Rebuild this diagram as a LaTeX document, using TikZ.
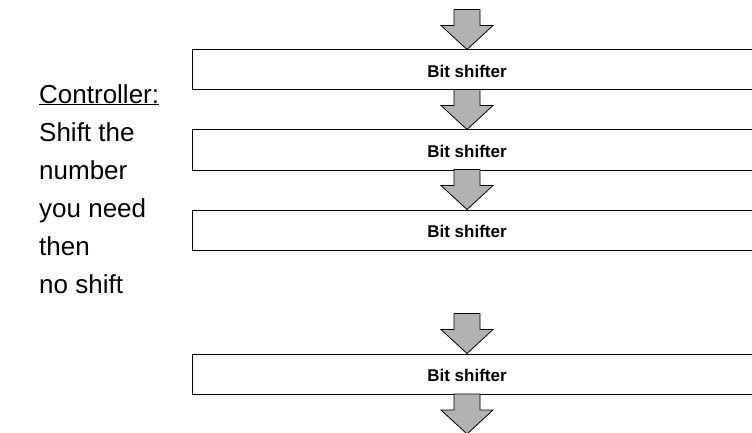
\documentclass[tikz,border=0pt]{standalone}
\usepackage{fontspec}
\setmainfont{Liberation Sans}
\begin{document}
\begin{tikzpicture}[x=1pt,y=-1pt,
  shifterbox/.style={draw=black,line width=1pt,fill=white,rectangle,
    minimum width=620pt,minimum height=40pt,inner sep=0pt},
  shiftlabel/.style={font=\fontsize{17}{20}\selectfont\bfseries,inner sep=0pt},
  blockarrow/.style={draw=black,line width=0.8pt,fill=black!30,line join=miter},
  pics/downarrow/.style={code={
    \draw[blockarrow] (-13,-40) -- (13,-40) -- (13,-24) -- (26,-24) -- (0,0)
      -- (-26,-24) -- (-13,-24) -- cycle;}}]
\useasboundingbox (0,0) rectangle (752,433);
\clip (0,0) rectangle (752,433);

% the four shifter stages (boxes run past the right edge)
\node[shifterbox] (b1) at (502.5,70) {};
\node[shifterbox] (b2) at (502.5,150) {};
\node[shifterbox] (b3) at (502.5,230) {};
\node[shifterbox] (b4) at (502.5,374) {};
\node[shiftlabel] (t1) at (467,71) {Bit shifter};
\node[shiftlabel] (t2) at (467,151) {Bit shifter};
\node[shiftlabel] (t3) at (467,231) {Bit shifter};
\node[shiftlabel] (t4) at (467,375) {Bit shifter};
\coordinate (out) at (467,434);

% data flow between stages
\pic at (b1.north -| t1) {downarrow};
\pic at (b2.north -| t2) {downarrow};
\pic at (b3.north -| t3) {downarrow};
\pic at (b4.north -| t4) {downarrow};
\pic at (out) {downarrow};

% controller note
\node[anchor=north west,inner sep=0pt,align=left,
  font=\fontsize{26}{38}\selectfont] (ctrl) at (39,84)
  {\underline{Controller:}\\Shift the\\number\\you need\\then\\no shift};
\end{tikzpicture}
\end{document}
